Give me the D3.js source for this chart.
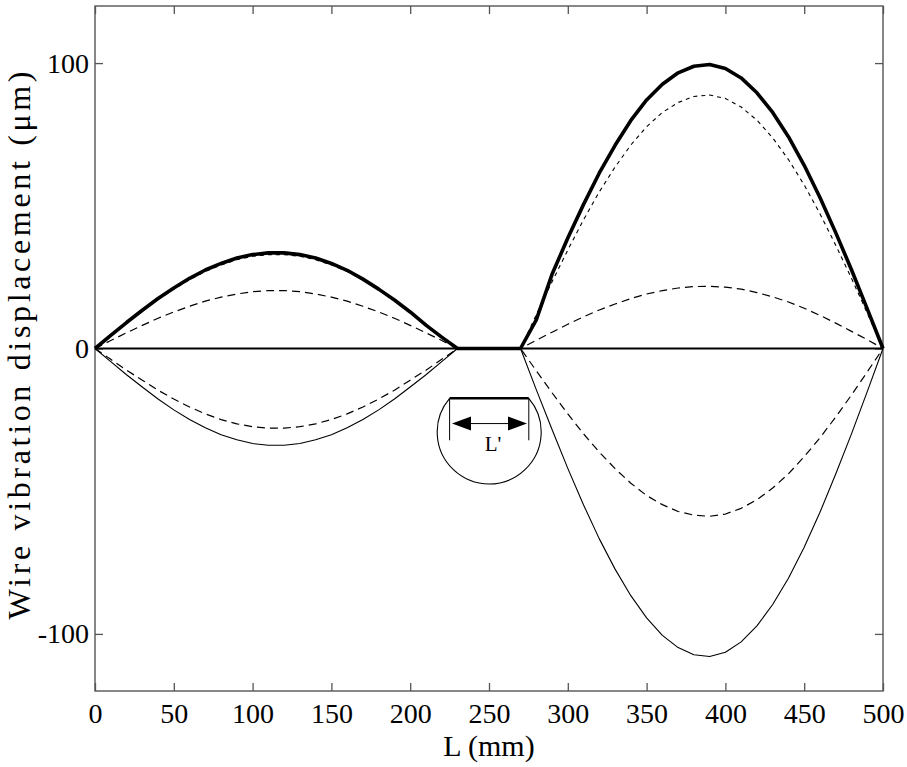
<!DOCTYPE html>
<meta charset="utf-8">
<head>
<title>Wire vibration displacement</title>
</head>
<style>
body { margin: 0; background: #fff; }
svg text { font-family: "Liberation Serif", "Times New Roman", serif; fill: #000; }
.axis path { display: none; }
.axis line { stroke: #555; stroke-width: 1.3; }
</style>
<body>
<script src="https://cdn.jsdelivr.net/npm/d3@7"></script>
<script>

// L positions (mm)
var lPos = [0, 10, 20, 30, 40, 50, 60, 70, 80, 90, 100, 110, 120, 130, 140, 150, 160, 170, 180, 190, 200, 210, 220, 230,
            240, 250, 260,
            270, 280, 290, 300, 310, 320, 330, 340, 350, 360, 370, 380, 390, 400, 410, 420, 430, 440, 450, 460, 470, 480, 490, 500];

// thick solid curve
var thickVals = [0, 4.6, 9.1, 13.4, 17.5, 21.2, 24.6, 27.5, 29.8, 31.7, 32.9, 33.5, 33.5, 32.9, 31.7, 29.8, 27.4, 24.3, 20.8, 17.0, 12.8, 8.2, 4.0, 0,
                 0, 0, 0,
                 0, 10.0, 26.0, 38.7, 50.5, 61.5, 71.2, 79.9, 87.1, 92.6, 96.6, 98.9, 99.5, 98.1, 94.8, 89.6, 82.7, 74.2, 64.2, 52.9, 40.6, 27.6, 13.9, 0];

// short-dash curve
var dotVals = [0, 4.5, 8.9, 13.1, 17.2, 20.8, 24.1, 27.0, 29.3, 31.1, 32.3, 32.9, 32.9, 32.3, 31.1, 29.3, 27.0, 24.0, 20.6, 16.8, 12.6, 8.1, 3.9, 0,
               0, 0, 0,
               0, 11.8, 23.4, 34.5, 45.1, 54.9, 63.6, 71.3, 77.7, 82.7, 86.2, 88.3, 88.8, 87.6, 84.6, 80.0, 73.8, 66.2, 57.3, 47.2, 36.2, 24.6, 12.4, 0];

// upper dashed curve
var dashUpVals = [0, 2.8, 5.5, 8.1, 10.6, 12.8, 14.8, 16.6, 18.0, 19.1, 19.9, 20.3, 20.3, 19.9, 19.1, 18.0, 16.6, 14.8, 12.8, 10.6, 8.1, 5.5, 2.8, 0,
                  0, 0, 0,
                  0, 2.9, 5.7, 8.5, 11.1, 13.5, 15.6, 17.5, 19.1, 20.3, 21.2, 21.7, 21.8, 21.5, 20.8, 19.6, 18.1, 16.3, 14.1, 11.6, 8.9, 6.0, 3.1, 0];

// lower dashed curve
var dashLowVals = [0, -3.8, -7.6, -11.1, -14.6, -17.7, -20.5, -22.9, -24.9, -26.4, -27.4, -27.9, -27.9, -27.4, -26.4, -24.9, -22.9, -20.5, -17.7, -14.6, -11.1, -7.6, -3.8, 0,
                   0, 0, 0,
                   0, -7.8, -15.5, -22.9, -29.9, -36.3, -42.1, -47.2, -51.5, -54.7, -57.1, -58.4, -58.8, -58.0, -56.0, -53.0, -48.9, -43.9, -37.9, -31.3, -24.0, -16.3, -8.2, 0];

// lower thin solid curve
var thinVals = [0, -4.6, -9.2, -13.5, -17.7, -21.5, -24.9, -27.8, -30.2, -32.0, -33.3, -33.9, -33.9, -33.3, -32.0, -30.2, -27.8, -24.9, -21.5, -17.7, -13.5, -9.2, -4.6, 0,
                0, 0, 0,
                0, -14.4, -28.4, -42.0, -54.8, -66.7, -77.3, -86.6, -94.4, -100.5, -104.8, -107.3, -107.9, -106.4, -102.8, -97.2, -89.7, -80.5, -69.6, -57.4, -44.0, -29.9, -15.1, 0];

// straight wire (zero line)
var zeroPos = [0, 500];
var zeroVals = [0, 0];

var xTicks = [0, 50, 100, 150, 200, 250, 300, 350, 400, 450, 500];
var yTicks = [-100, 0, 100];

var width = 907, height = 767;
var margin = {top: 6, right: 24, bottom: 76, left: 95};

var svg = d3.select("body")
    .append("svg")
    .attr("width", width)
    .attr("height", height);

var x = d3.scaleLinear().domain([0, 500]).range([margin.left, width - margin.right]);
var y = d3.scaleLinear().domain([-120, 120]).range([height - margin.bottom, margin.top]);

// frame
svg.append("rect")
    .attr("x", x(0)).attr("y", y(120))
    .attr("width", x(500) - x(0)).attr("height", y(-120) - y(120))
    .attr("fill", "none").attr("stroke", "#555").attr("stroke-width", 1.4);

// axes, ticks pointing in
svg.append("g").attr("class", "axis")
    .attr("transform", "translate(0," + y(-120) + ")")
    .call(d3.axisBottom(x).tickValues(xTicks).tickSizeInner(-8).tickSizeOuter(0).tickPadding(12))
    .selectAll("text").style("font-size", "28px");
svg.append("g").attr("class", "axis")
    .attr("transform", "translate(0," + y(120) + ")")
    .call(d3.axisTop(x).tickValues(xTicks).tickSizeInner(-8).tickSizeOuter(0).tickFormat(""));
svg.append("g").attr("class", "axis")
    .attr("transform", "translate(" + x(0) + ",0)")
    .call(d3.axisLeft(y).tickValues(yTicks).tickSizeInner(-8).tickSizeOuter(0).tickPadding(6)
          .tickFormat(function(d) { return String(d); }))
    .selectAll("text").style("font-size", "28px");
svg.append("g").attr("class", "axis")
    .attr("transform", "translate(" + x(500) + ",0)")
    .call(d3.axisRight(y).tickValues(yTicks).tickSizeInner(-8).tickSizeOuter(0).tickFormat(""));

// axis titles
svg.append("text")
    .attr("x", (x(0) + x(500)) / 2)
    .attr("y", 756)
    .attr("text-anchor", "middle")
    .style("font-size", "30px")
    .text("L (mm)");

svg.append("text")
    .attr("transform", "translate(30," + (y(0) - 3) + ") rotate(-90)")
    .attr("text-anchor", "middle")
    .attr("textLength", 548)
    .attr("lengthAdjust", "spacing")
    .style("font-size", "32px")
    .text("Wire vibration displacement (\u03bcm)");

// curves
function series(xs, ys) {
  return xs.map(function(d, i) { return {l: d, v: ys[i]}; });
}
var line = d3.line()
    .x(function(d) { return x(d.l); })
    .y(function(d) { return y(d.v); });

var curves = [
  {data: series(zeroPos, zeroVals), w: 2, dash: null},
  {data: series(lPos, thinVals), w: 1.1, dash: null},
  {data: series(lPos, dashLowVals), w: 1.2, dash: "8,5"},
  {data: series(lPos, dashUpVals), w: 1.2, dash: "8,5"},
  {data: series(lPos, dotVals), w: 1.1, dash: "4,4"},
  {data: series(lPos, thickVals), w: 3.6, dash: null}
];

svg.append("g")
  .selectAll("path")
  .data(curves)
  .enter()
  .append("path")
    .attr("d", function(d) { return line(d.data); })
    .attr("fill", "none")
    .attr("stroke", "#000")
    .attr("stroke-width", function(d) { return d.w; })
    .attr("stroke-dasharray", function(d) { return d.dash; })
    .attr("stroke-linejoin", "round");

// L' detail circle
var cx = x(250), cy = y(-29), r = 52;
var bx1 = cx - 39.4, bx2 = cx + 39.8, by = cy - 33;
var ann = svg.append("g").attr("stroke", "#000");
ann.append("path")
    .attr("d", "M" + bx1 + "," + by + " A" + r + "," + r + " 0 1 0 " + bx2 + "," + by)
    .attr("fill", "none").attr("stroke-width", 1.1);
ann.append("line")
    .attr("x1", bx1).attr("x2", bx2).attr("y1", by).attr("y2", by)
    .attr("stroke-width", 2.6);
ann.append("line")
    .attr("x1", bx1).attr("x2", bx1).attr("y1", by).attr("y2", cy + 9)
    .attr("stroke-width", 1);
ann.append("line")
    .attr("x1", bx2).attr("x2", bx2).attr("y1", by).attr("y2", cy + 9)
    .attr("stroke-width", 1);
var ay = cy - 7.7;
ann.append("line")
    .attr("x1", cx - 20).attr("x2", cx + 20).attr("y1", ay).attr("y2", ay)
    .attr("stroke-width", 1);
ann.append("path")
    .attr("d", "M" + (cx - 37) + "," + ay + " L" + (cx - 18) + "," + (ay - 7) + " L" + (cx - 18) + "," + (ay + 7) + " Z")
    .attr("fill", "#000").attr("stroke", "none");
ann.append("path")
    .attr("d", "M" + (cx + 38) + "," + ay + " L" + (cx + 19) + "," + (ay - 7) + " L" + (cx + 19) + "," + (ay + 7) + " Z")
    .attr("fill", "#000").attr("stroke", "none");
svg.append("text")
    .attr("x", cx + 4)
    .attr("y", cy + 20)
    .attr("text-anchor", "middle")
    .style("font-size", "21px")
    .text("L'");

</script>
</body>
